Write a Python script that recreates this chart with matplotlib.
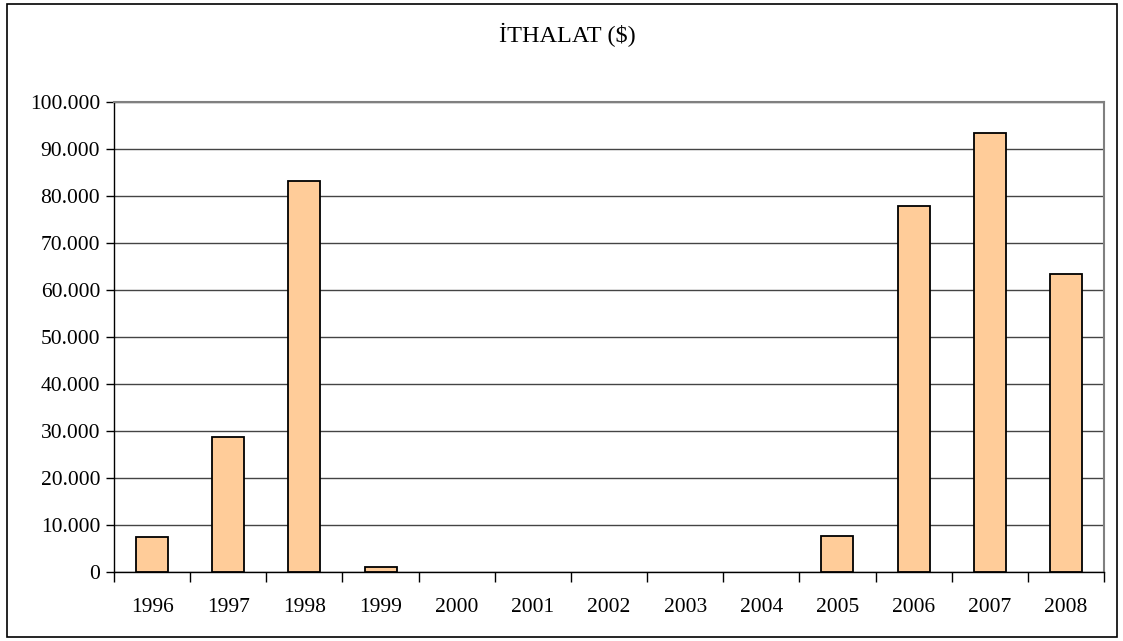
import matplotlib.pyplot as plt
from matplotlib.ticker import FuncFormatter, FixedLocator
from matplotlib.patches import Rectangle

years = ['1996', '1997', '1998', '1999', '2000', '2001', '2002',
         '2003', '2004', '2005', '2006', '2007', '2008']
imports = [7400, 28800, 83200, 1100, 0, 0, 0, 0, 0, 7700, 77900, 93400, 63400]

plt.rcParams['font.family'] = ['Liberation Serif', 'DejaVu Serif']

fig = plt.figure(figsize=(11.23, 6.41), dpi=100)
ax = fig.add_axes([114 / 1123, 1 - 572 / 641, 990 / 1123, 470 / 641])

# outer chart border
fig.patches.append(Rectangle((7 / 1123, 4 / 641), 1110 / 1123, 633 / 641,
                             transform=fig.transFigure, fill=False,
                             edgecolor='black', linewidth=1.2))

x = list(range(len(years)))
bars = ax.bar(x, imports, width=0.42, color='#ffcc99', edgecolor='black',
              linewidth=1.3, zorder=3)
# empty years show no outline
for b, v in zip(bars, imports):
    if v == 0:
        b.set_visible(False)

ax.set_xlim(-0.5, len(years) - 0.5)
ax.set_ylim(0, 100000)
ax.set_yticks(range(0, 100001, 10000))
ax.yaxis.set_major_formatter(FuncFormatter(lambda v, _: f'{v:,.0f}'.replace(',', '.')))
ax.yaxis.grid(True, color='#444444', linewidth=1.0, zorder=0)

ax.set_xticks(x)
ax.set_xticklabels(years)
ax.xaxis.set_minor_locator(FixedLocator([i - 0.5 for i in range(len(years) + 1)]))
ax.tick_params(axis='x', which='major', length=0, pad=19, labelsize=15.5)
ax.tick_params(axis='x', which='minor', length=7, width=1, direction='out')
ax.tick_params(axis='y', length=6, width=1, direction='out', labelsize=15.5, pad=4)

for side in ['top', 'right']:
    ax.spines[side].set_color('#808080')
    ax.spines[side].set_linewidth(1.5)
for side in ['left', 'bottom']:
    ax.spines[side].set_color('black')
    ax.spines[side].set_linewidth(1.0)

fig.text(567 / 1123, 1 - 35 / 641, 'İTHALAT ($)', ha='center', va='center',
         fontsize=17.5)

fig.savefig('out.png', dpi=100)
